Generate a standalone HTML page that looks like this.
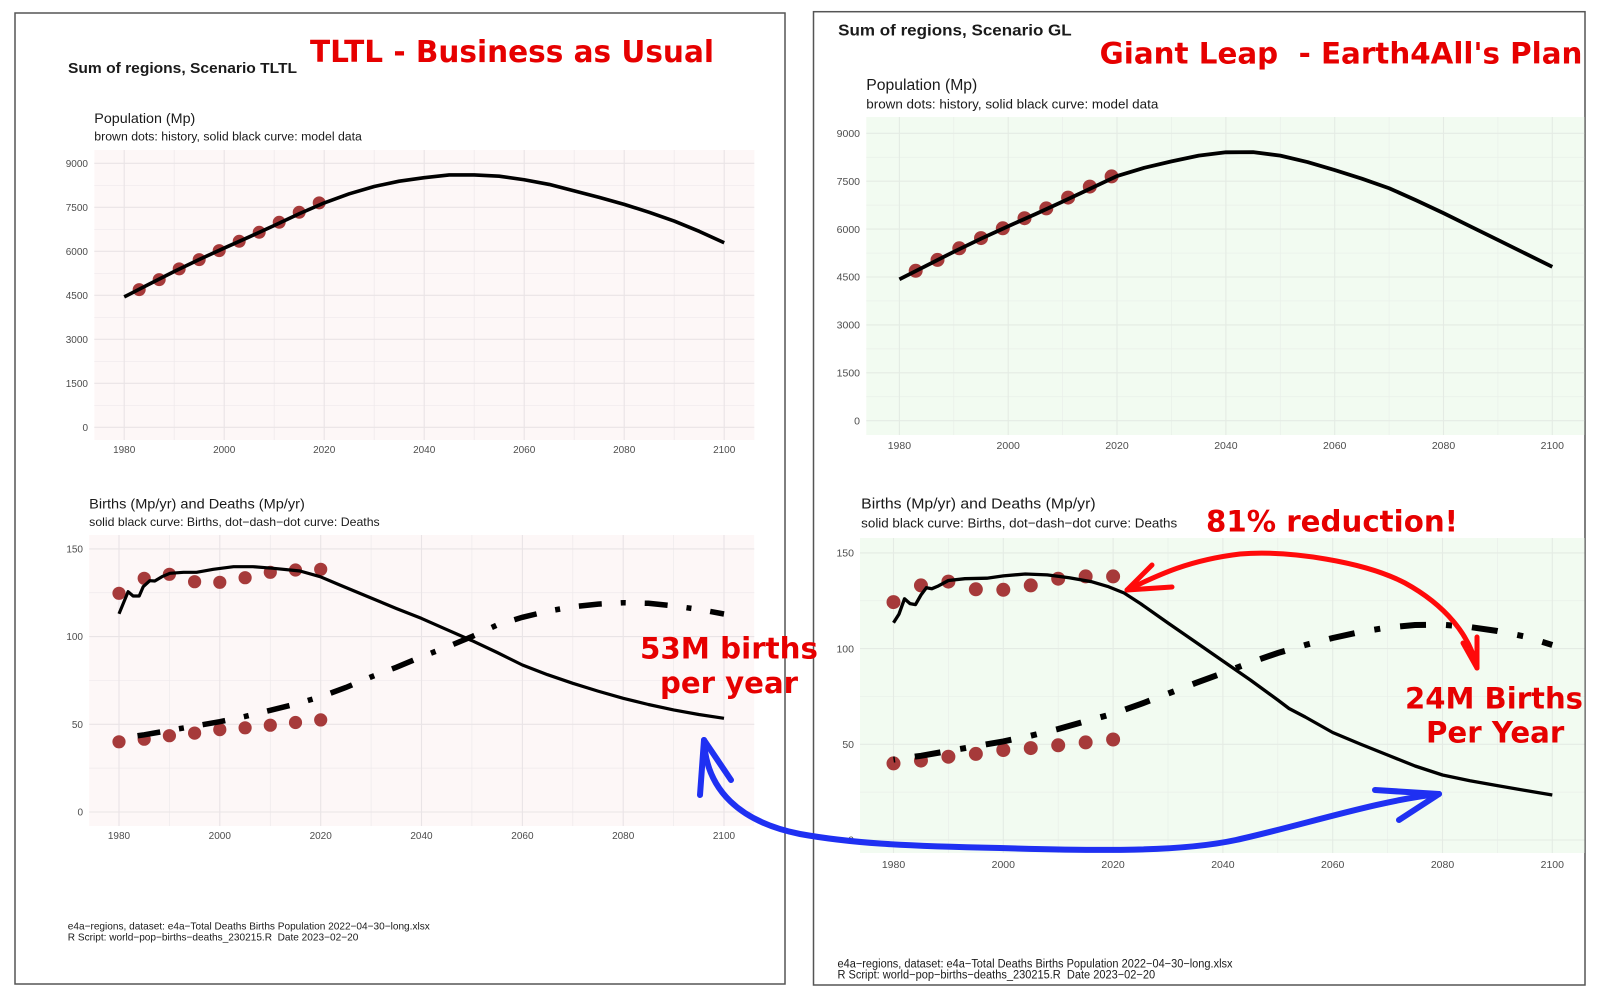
<!DOCTYPE html>
<html>
<head>
<meta charset="utf-8">
<style>
html,body{margin:0;padding:0;background:#fff;}
svg{display:block;}
.r{font-family:"Liberation Sans",Arial,sans-serif;}
.tk{font-family:"Liberation Sans",Arial,sans-serif;fill:#4d4d4d;}
.red{font-family:"DejaVu Sans","Liberation Sans",sans-serif;font-weight:bold;fill:#e60000;}
.g{stroke:#e9e4e6;stroke-width:1.1;}
.gm{stroke:#eee9eb;stroke-width:0.7;}
.gg{stroke:#e4ebe4;stroke-width:1.1;}
.ggm{stroke:#e9efe9;stroke-width:0.7;}
</style>
</head>
<body>
<svg width="1600" height="1000" viewBox="0 0 1600 1000" xmlns="http://www.w3.org/2000/svg">
<rect x="0" y="0" width="1600" height="1000" fill="#fff"/>

<!-- Panel borders -->
<rect x="15" y="13" width="770" height="971" fill="#fff" stroke="#555" stroke-width="1.5"/>
<rect x="813.5" y="11.7" width="771.5" height="973.3" fill="#fff" stroke="#555" stroke-width="1.5"/>

<!-- ============ LEFT PANEL ============ -->
<text class="r" x="68" y="73" font-size="15" font-weight="bold" fill="#1a1a1a" textLength="229" lengthAdjust="spacingAndGlyphs">Sum of regions, Scenario TLTL</text>
<text class="red" x="310" y="62" font-size="30" textLength="404" lengthAdjust="spacingAndGlyphs">TLTL - Business as Usual</text>

<text class="r" x="94.3" y="123" font-size="14" fill="#1a1a1a" textLength="101" lengthAdjust="spacingAndGlyphs">Population (Mp)</text>
<text class="r" x="94.3" y="140.5" font-size="11.5" fill="#1a1a1a" textLength="267.6" lengthAdjust="spacingAndGlyphs">brown dots: history, solid black curve: model data</text>

<!-- Panel A bg -->
<rect x="94.3" y="150" width="660" height="290" fill="#fdf7f7"/>
<g class="gm">
<line x1="94.3" x2="754.3" y1="405.3" y2="405.3"/><line x1="94.3" x2="754.3" y1="361.3" y2="361.3"/>
<line x1="94.3" x2="754.3" y1="317.3" y2="317.3"/><line x1="94.3" x2="754.3" y1="273.3" y2="273.3"/>
<line x1="94.3" x2="754.3" y1="229.3" y2="229.3"/><line x1="94.3" x2="754.3" y1="185.3" y2="185.3"/>
<line x1="174.2" x2="174.2" y1="150" y2="440"/><line x1="274.2" x2="274.2" y1="150" y2="440"/>
<line x1="374.2" x2="374.2" y1="150" y2="440"/><line x1="474.2" x2="474.2" y1="150" y2="440"/>
<line x1="574.2" x2="574.2" y1="150" y2="440"/><line x1="674.2" x2="674.2" y1="150" y2="440"/>
</g>
<g class="g">
<line x1="94.3" x2="754.3" y1="427.3" y2="427.3"/><line x1="94.3" x2="754.3" y1="383.3" y2="383.3"/>
<line x1="94.3" x2="754.3" y1="339.3" y2="339.3"/><line x1="94.3" x2="754.3" y1="295.3" y2="295.3"/>
<line x1="94.3" x2="754.3" y1="251.3" y2="251.3"/><line x1="94.3" x2="754.3" y1="207.3" y2="207.3"/>
<line x1="94.3" x2="754.3" y1="163.3" y2="163.3"/>
<line x1="124.2" x2="124.2" y1="150" y2="440"/><line x1="224.2" x2="224.2" y1="150" y2="440"/>
<line x1="324.2" x2="324.2" y1="150" y2="440"/><line x1="424.2" x2="424.2" y1="150" y2="440"/>
<line x1="524.2" x2="524.2" y1="150" y2="440"/><line x1="624.2" x2="624.2" y1="150" y2="440"/>
<line x1="724.2" x2="724.2" y1="150" y2="440"/>
</g>
<g class="tk" font-size="10" text-anchor="end">
<text x="88" y="430.9">0</text><text x="88" y="386.9">1500</text><text x="88" y="342.9">3000</text>
<text x="88" y="298.9">4500</text><text x="88" y="254.9">6000</text><text x="88" y="210.9">7500</text>
<text x="88" y="166.9">9000</text>
</g>
<g class="tk" font-size="10" text-anchor="middle">
<text x="124.2" y="453">1980</text><text x="224.2" y="453">2000</text><text x="324.2" y="453">2020</text>
<text x="424.2" y="453">2040</text><text x="524.2" y="453">2060</text><text x="624.2" y="453">2080</text>
<text x="724.2" y="453">2100</text>
</g>
<g fill="#a63a3a">
<circle cx="139.2" cy="289.6" r="6.5"/><circle cx="159.2" cy="279.6" r="6.5"/><circle cx="179.2" cy="268.9" r="6.5"/>
<circle cx="199.2" cy="259.6" r="6.5"/><circle cx="219.2" cy="250.6" r="6.5"/><circle cx="239.2" cy="241.3" r="6.5"/>
<circle cx="259.2" cy="232.3" r="6.5"/><circle cx="279.2" cy="222.3" r="6.5"/><circle cx="299.2" cy="212.3" r="6.5"/>
<circle cx="319.2" cy="202.9" r="6.5"/>
</g>
<polyline fill="none" stroke="#000" stroke-width="3.6" stroke-linejoin="round" points="124.2,296.9 149.2,284.15 174.2,271.54 199.2,259.51 224.2,248.07 249.2,236.93 274.2,225.49 299.2,213.75 324.2,202.9 349.2,193.81 374.2,186.47 399.2,181.19 424.2,177.67 449.2,174.9 474.2,174.9 499.2,176.21 524.2,179.73 549.2,184.42 574.2,190.87 599.2,197.33 624.2,204.37 649.2,212.29 674.2,221.09 699.2,231.35 724.2,242.79"/>

<!-- Panel C -->
<text class="r" x="89.2" y="508.3" font-size="14" fill="#1a1a1a" textLength="215.6" lengthAdjust="spacingAndGlyphs">Births (Mp/yr) and Deaths (Mp/yr)</text>
<text class="r" x="89.2" y="526" font-size="12" fill="#1a1a1a" textLength="290.5" lengthAdjust="spacingAndGlyphs">solid black curve: Births, dot−dash−dot curve: Deaths</text>

<rect x="89.2" y="535" width="665" height="291" fill="#fdf7f7"/>
<g class="gm">
<line x1="89.2" x2="754.3" y1="768.15" y2="768.15"/><line x1="89.2" x2="754.3" y1="680.45" y2="680.45"/>
<line x1="89.2" x2="754.3" y1="592.75" y2="592.75"/>
<line x1="169.4" x2="169.4" y1="535" y2="826"/><line x1="270.3" x2="270.3" y1="535" y2="826"/>
<line x1="371.1" x2="371.1" y1="535" y2="826"/><line x1="471.9" x2="471.9" y1="535" y2="826"/>
<line x1="572.8" x2="572.8" y1="535" y2="826"/><line x1="673.6" x2="673.6" y1="535" y2="826"/>
</g>
<g class="g">
<line x1="89.2" x2="754.3" y1="812" y2="812"/><line x1="89.2" x2="754.3" y1="724.3" y2="724.3"/>
<line x1="89.2" x2="754.3" y1="636.6" y2="636.6"/><line x1="89.2" x2="754.3" y1="548.9" y2="548.9"/>
<line x1="119" x2="119" y1="535" y2="826"/><line x1="219.8" x2="219.8" y1="535" y2="826"/>
<line x1="320.7" x2="320.7" y1="535" y2="826"/><line x1="421.5" x2="421.5" y1="535" y2="826"/>
<line x1="522.4" x2="522.4" y1="535" y2="826"/><line x1="623.2" x2="623.2" y1="535" y2="826"/>
<line x1="724" x2="724" y1="535" y2="826"/>
</g>
<g class="tk" font-size="10" text-anchor="end">
<text x="83" y="815.6">0</text><text x="83" y="727.9">50</text><text x="83" y="640.2">100</text><text x="83" y="552.5">150</text>
</g>
<g class="tk" font-size="10" text-anchor="middle">
<text x="119" y="839">1980</text><text x="219.8" y="839">2000</text><text x="320.7" y="839">2020</text>
<text x="421.5" y="839">2040</text><text x="522.4" y="839">2060</text><text x="623.2" y="839">2080</text>
<text x="724" y="839">2100</text>
</g>
<g fill="#a63a3a">
<circle cx="119" cy="593.3" r="6.6"/><circle cx="144.2" cy="578.3" r="6.6"/><circle cx="169.4" cy="574.3" r="6.6"/>
<circle cx="194.6" cy="581.7" r="6.6"/><circle cx="219.8" cy="582.3" r="6.6"/><circle cx="245.1" cy="577.7" r="6.6"/>
<circle cx="270.3" cy="572.3" r="6.6"/><circle cx="295.5" cy="570" r="6.6"/><circle cx="320.7" cy="569.3" r="6.6"/>
<circle cx="119" cy="741.8" r="6.6"/><circle cx="144.2" cy="739.2" r="6.6"/><circle cx="169.4" cy="735.7" r="6.6"/>
<circle cx="194.6" cy="733.1" r="6.6"/><circle cx="219.8" cy="729.6" r="6.6"/><circle cx="245.1" cy="727.8" r="6.6"/>
<circle cx="270.3" cy="725.2" r="6.6"/><circle cx="295.5" cy="722.5" r="6.6"/><circle cx="320.7" cy="719.9" r="6.6"/>
</g>
<polyline fill="none" stroke="#000" stroke-width="3.2" stroke-linejoin="round" points="119,613.8 128.1,591.7 133.1,596 139.2,596 143.2,586.7 149.8,580.7 154.8,581 161.9,576.7 169.9,573.3 183.5,572.3 196.6,572.3 213.3,569.3 233.5,566.7 253.1,566.7 273.3,568.3 300,571 320.2,576.7 339.8,585 371.1,598 396.3,608.5 421.5,618.4 446.7,629.6 471.9,640.6 497.2,652.5 522.4,665 547.6,674.7 572.8,683.3 598,691.1 623.2,698.3 648.4,704.5 673.6,709.9 698.8,714.5 724,718.3"/>
<polyline fill="none" stroke="#000" stroke-width="5.5" stroke-dasharray="23 19 5 19" stroke-dashoffset="47.3" points="119,738.3 144.2,734.8 169.4,730.4 194.6,726.1 219.8,721.7 245.1,716.4 270.3,710.3 295.5,704.1 320.7,696.8 345.9,687.5 371.1,676.9 396.3,667.3 421.5,656.8 446.7,647.1 471.9,636.6 497.2,625 522.4,617.3 547.6,611.2 572.8,606.8 598,604.1 623.2,602.7 648.4,603.3 673.6,605.9 698.8,609.4 724,614"/>

<text class="r" x="67.8" y="929.3" font-size="10.5" fill="#1a1a1a" textLength="362" lengthAdjust="spacingAndGlyphs">e4a−regions, dataset: e4a−Total Deaths Births Population 2022−04−30−long.xlsx</text>
<text class="r" x="67.8" y="940.3" font-size="10.5" fill="#1a1a1a" textLength="290.5" lengthAdjust="spacingAndGlyphs">R Script: world−pop−births−deaths_230215.R&#160; Date 2023−02−20</text>

<!-- ============ RIGHT PANEL ============ -->
<text class="r" x="838.2" y="35.5" font-size="16" font-weight="bold" fill="#1a1a1a" textLength="233.5" lengthAdjust="spacingAndGlyphs">Sum of regions, Scenario GL</text>
<text class="red" x="1099.7" y="63.3" font-size="29" textLength="482.7" lengthAdjust="spacingAndGlyphs">Giant Leap&#160; - Earth4All's Plan</text>

<text class="r" x="866.3" y="90" font-size="15.5" fill="#1a1a1a" textLength="111" lengthAdjust="spacingAndGlyphs">Population (Mp)</text>
<text class="r" x="866.3" y="108.3" font-size="12.5" fill="#1a1a1a" textLength="292" lengthAdjust="spacingAndGlyphs">brown dots: history, solid black curve: model data</text>

<rect x="866.3" y="117" width="718" height="318" fill="#f2fbf1"/>
<g class="ggm">
<line x1="866.3" x2="1584.5" y1="396.75" y2="396.75"/><line x1="866.3" x2="1584.5" y1="348.85" y2="348.85"/>
<line x1="866.3" x2="1584.5" y1="300.95" y2="300.95"/><line x1="866.3" x2="1584.5" y1="253.05" y2="253.05"/>
<line x1="866.3" x2="1584.5" y1="205.15" y2="205.15"/><line x1="866.3" x2="1584.5" y1="157.25" y2="157.25"/>
<line x1="953.8" x2="953.8" y1="117" y2="435"/><line x1="1062.6" x2="1062.6" y1="117" y2="435"/>
<line x1="1171.5" x2="1171.5" y1="117" y2="435"/><line x1="1280.3" x2="1280.3" y1="117" y2="435"/>
<line x1="1389.1" x2="1389.1" y1="117" y2="435"/><line x1="1497.9" x2="1497.9" y1="117" y2="435"/>
</g>
<g class="gg">
<line x1="866.3" x2="1584.5" y1="420.7" y2="420.7"/><line x1="866.3" x2="1584.5" y1="372.8" y2="372.8"/>
<line x1="866.3" x2="1584.5" y1="324.9" y2="324.9"/><line x1="866.3" x2="1584.5" y1="277" y2="277"/>
<line x1="866.3" x2="1584.5" y1="229.1" y2="229.1"/><line x1="866.3" x2="1584.5" y1="181.2" y2="181.2"/>
<line x1="866.3" x2="1584.5" y1="133.3" y2="133.3"/>
<line x1="899.4" x2="899.4" y1="117" y2="435"/><line x1="1008.2" x2="1008.2" y1="117" y2="435"/>
<line x1="1117" x2="1117" y1="117" y2="435"/><line x1="1225.9" x2="1225.9" y1="117" y2="435"/>
<line x1="1334.7" x2="1334.7" y1="117" y2="435"/><line x1="1443.5" x2="1443.5" y1="117" y2="435"/>
<line x1="1552.3" x2="1552.3" y1="117" y2="435"/>
</g>
<g class="tk" font-size="10.5" text-anchor="end">
<text x="860" y="424.4">0</text><text x="860" y="376.5">1500</text><text x="860" y="328.6">3000</text>
<text x="860" y="280.7">4500</text><text x="860" y="232.8">6000</text><text x="860" y="184.9">7500</text>
<text x="860" y="137">9000</text>
</g>
<g class="tk" font-size="10.5" text-anchor="middle">
<text x="899.4" y="449">1980</text><text x="1008.2" y="449">2000</text><text x="1117" y="449">2020</text>
<text x="1225.9" y="449">2040</text><text x="1334.7" y="449">2060</text><text x="1443.5" y="449">2080</text>
<text x="1552.3" y="449">2100</text>
</g>
<g fill="#a63a3a">
<circle cx="915.7" cy="270.8" r="7"/><circle cx="937.5" cy="259.9" r="7"/><circle cx="959.3" cy="248.3" r="7"/>
<circle cx="981" cy="238.1" r="7"/><circle cx="1002.8" cy="228.3" r="7"/><circle cx="1024.5" cy="218.2" r="7"/>
<circle cx="1046.3" cy="208.4" r="7"/><circle cx="1068.1" cy="197.6" r="7"/><circle cx="1089.8" cy="186.6" r="7"/>
<circle cx="1111.6" cy="176.4" r="7"/>
</g>
<polyline fill="none" stroke="#000" stroke-width="3.8" stroke-linejoin="round" points="899.4,279.3 926.6,265.51 953.8,251.77 981,238.68 1008.2,226.23 1035.4,214.09 1062.6,201.64 1089.8,188.87 1117,176.09 1144.2,167.79 1171.5,161.4 1198.7,155.66 1225.9,152.3 1253.1,152.14 1280.3,155.66 1307.5,162.04 1334.7,170.03 1361.9,178.65 1389.1,188.23 1416.3,200.36 1443.5,213.14 1470.7,226.55 1497.9,239.96 1525.1,253.37 1552.3,266.78"/>

<!-- Panel D -->
<text class="r" x="861.2" y="508.3" font-size="15" fill="#1a1a1a" textLength="234.4" lengthAdjust="spacingAndGlyphs">Births (Mp/yr) and Deaths (Mp/yr)</text>
<text class="r" x="861.2" y="527.3" font-size="13" fill="#1a1a1a" textLength="316" lengthAdjust="spacingAndGlyphs">solid black curve: Births, dot−dash−dot curve: Deaths</text>
<text class="red" x="1206" y="531.7" font-size="29" textLength="252" lengthAdjust="spacingAndGlyphs">81% reduction!</text>

<rect x="860" y="538" width="724.5" height="315" fill="#f2fbf1"/>
<g class="ggm">
<line x1="860" x2="1584.5" y1="792.15" y2="792.15"/><line x1="860" x2="1584.5" y1="696.45" y2="696.45"/>
<line x1="860" x2="1584.5" y1="600.75" y2="600.75"/>
<line x1="948.4" x2="948.4" y1="538" y2="853"/><line x1="1058.2" x2="1058.2" y1="538" y2="853"/>
<line x1="1168" x2="1168" y1="538" y2="853"/><line x1="1277.8" x2="1277.8" y1="538" y2="853"/>
<line x1="1387.6" x2="1387.6" y1="538" y2="853"/><line x1="1497.4" x2="1497.4" y1="538" y2="853"/>
</g>
<g class="gg">
<line x1="860" x2="1584.5" y1="840" y2="840"/><line x1="860" x2="1584.5" y1="744.3" y2="744.3"/>
<line x1="860" x2="1584.5" y1="648.6" y2="648.6"/><line x1="860" x2="1584.5" y1="552.9" y2="552.9"/>
<line x1="893.5" x2="893.5" y1="538" y2="853"/><line x1="1003.3" x2="1003.3" y1="538" y2="853"/>
<line x1="1113.1" x2="1113.1" y1="538" y2="853"/><line x1="1222.9" x2="1222.9" y1="538" y2="853"/>
<line x1="1332.7" x2="1332.7" y1="538" y2="853"/><line x1="1442.5" x2="1442.5" y1="538" y2="853"/>
<line x1="1552.3" x2="1552.3" y1="538" y2="853"/>
</g>
<g class="tk" font-size="10.5" text-anchor="end">
<text x="854" y="843.7">0</text><text x="854" y="748">50</text><text x="854" y="652.3">100</text><text x="854" y="556.6">150</text>
</g>
<g class="tk" font-size="10.5" text-anchor="middle">
<text x="893.5" y="868">1980</text><text x="1003.3" y="868">2000</text><text x="1113.1" y="868">2020</text>
<text x="1222.9" y="868">2040</text><text x="1332.7" y="868">2060</text><text x="1442.5" y="868">2080</text>
<text x="1552.3" y="868">2100</text>
</g>
<g fill="#a63a3a">
<circle cx="893.5" cy="602.1" r="7"/><circle cx="920.95" cy="585.4" r="7"/><circle cx="948.4" cy="581.6" r="7"/>
<circle cx="975.85" cy="589.3" r="7"/><circle cx="1003.3" cy="589.8" r="7"/><circle cx="1030.75" cy="585.4" r="7"/>
<circle cx="1058.2" cy="578.7" r="7"/><circle cx="1085.65" cy="576.4" r="7"/><circle cx="1113.1" cy="576.4" r="7"/>
<circle cx="893.5" cy="763.4" r="7"/><circle cx="920.95" cy="760.6" r="7"/><circle cx="948.4" cy="756.7" r="7"/>
<circle cx="975.85" cy="753.9" r="7"/><circle cx="1003.3" cy="750" r="7"/><circle cx="1030.75" cy="748.1" r="7"/>
<circle cx="1058.2" cy="745.3" r="7"/><circle cx="1085.65" cy="742.4" r="7"/><circle cx="1113.1" cy="739.5" r="7"/>
</g>
<polyline fill="none" stroke="#000" stroke-width="3.3" stroke-linejoin="round" points="893.5,622.8 899,614.1 904.5,598.8 910,603.6 915.5,604.6 920.95,595 926.4,587.7 931.9,588.7 937.4,586.4 948.4,580.5 964.9,578.7 986.8,578.2 1003.3,575.9 1025.3,574 1047.2,574.9 1069.2,577.8 1091.1,581.6 1107.6,586.4 1124.1,593 1140.5,603.6 1168,623 1195.5,642 1222.9,661 1250.35,680 1277.8,700 1289,708.5 1305.25,717 1332.7,732.5 1360.15,744 1387.6,755 1415.05,766 1442.5,775 1469.95,780.7 1497.4,785.6 1524.85,790.4 1552.3,795"/>
<polyline fill="none" stroke="#000" stroke-width="6" stroke-dasharray="26 20 6 20" stroke-dashoffset="50.5" points="893.5,759.6 920.95,755.8 948.4,751 975.85,746.2 1003.3,741.4 1030.75,735.7 1058.2,729 1085.65,721.3 1113.1,713.7 1140.55,704.1 1168,693.6 1195.45,683.1 1222.9,673 1250.35,662.5 1277.8,653 1305.25,645 1332.7,638 1360.15,632 1387.6,627.5 1415.05,625 1442.5,624.7 1469.95,627 1497.4,631 1524.85,636.5 1552.3,645"/>

<text class="r" x="837.5" y="967.3" font-size="11.5" fill="#1a1a1a" textLength="395" lengthAdjust="spacingAndGlyphs">e4a−regions, dataset: e4a−Total Deaths Births Population 2022−04−30−long.xlsx</text>
<text class="r" x="837.5" y="978.3" font-size="11.5" fill="#1a1a1a" textLength="317.6" lengthAdjust="spacingAndGlyphs">R Script: world−pop−births−deaths_230215.R&#160; Date 2023−02−20</text>

<!-- ============ ANNOTATIONS ============ -->
<text class="red" x="640" y="658.3" font-size="29" textLength="178" lengthAdjust="spacingAndGlyphs">53M births</text>
<text class="red" x="660" y="693" font-size="29" textLength="138" lengthAdjust="spacingAndGlyphs">per year</text>
<text class="red" x="1405" y="708.3" font-size="29" textLength="178" lengthAdjust="spacingAndGlyphs">24M Births</text>
<text class="red" x="1426" y="742.5" font-size="29" textLength="138.3" lengthAdjust="spacingAndGlyphs">Per Year</text>

<!-- red arrow -->
<g fill="none" stroke="#ff0a0a" stroke-width="5" stroke-linecap="round" stroke-linejoin="round">
<path d="M1127,590 C1160,574 1190,560 1240,554 C1290,550 1365,562 1405,583 C1445,605 1470,635 1477,668"/>
<path d="M1152,565 L1127,590 L1172,587"/>
<path d="M1463,643 L1477,668 L1477,637"/>
</g>

<!-- blue arrow -->
<g fill="none" stroke="#1f30f2" stroke-width="6" stroke-linecap="round" stroke-linejoin="round">
<path d="M704,740 C706,790 740,822 800,834 C850,843 900,846 1000,848 C1100,851 1180,852 1236,840 C1300,826 1380,800 1439,794"/>
<path d="M700,795 L704,740 L731,780"/>
<path d="M1375,790 L1439,794 L1399,820"/>
</g>
</svg>
</body>
</html>
